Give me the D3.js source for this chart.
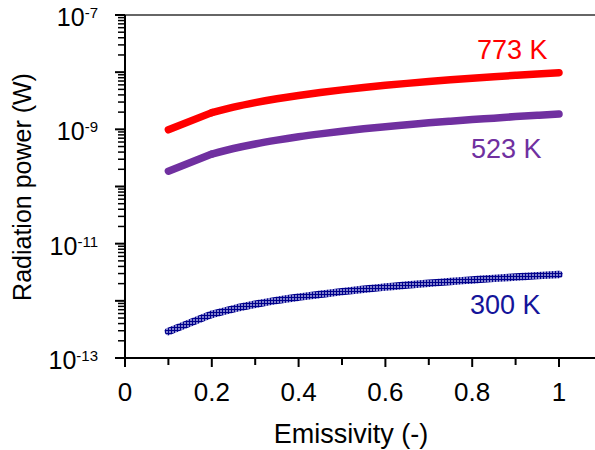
<!DOCTYPE html>
<html>
<head>
<meta charset="utf-8">
<script src="https://cdn.jsdelivr.net/npm/d3@7"></script>
<style>
  body { margin: 0; background: #fff; }
  svg { display: block; font-family: "Liberation Sans", Arial, sans-serif; }
</style>
</head>
<body>
<svg id="chart" width="595" height="450"></svg>
<script>
// emissivity values (x)
var emissivity = [0.1, 0.2, 0.25, 0.3, 0.35, 0.4, 0.45, 0.5, 0.55, 0.6, 0.65, 0.7, 0.75, 0.8, 0.85, 0.9, 0.95, 1.0];
// radiation power (W)
var power773 = [9.8e-10, 1.96e-9, 2.45e-9, 2.94e-9, 3.43e-9, 3.92e-9, 4.41e-9, 4.9e-9, 5.39e-9, 5.88e-9,
                6.37e-9, 6.86e-9, 7.35e-9, 7.84e-9, 8.33e-9, 8.82e-9, 9.31e-9, 9.8e-9];
var power523 = [1.85e-10, 3.7e-10, 4.62e-10, 5.55e-10, 6.47e-10, 7.4e-10, 8.32e-10, 9.25e-10, 1.02e-9, 1.11e-9,
                1.2e-9, 1.3e-9, 1.39e-9, 1.48e-9, 1.57e-9, 1.67e-9, 1.76e-9, 1.85e-9];
var power300 = [2.9e-13, 5.8e-13, 7.25e-13, 8.7e-13, 1.02e-12, 1.16e-12, 1.3e-12, 1.45e-12, 1.6e-12, 1.74e-12,
                1.89e-12, 2.03e-12, 2.18e-12, 2.32e-12, 2.47e-12, 2.61e-12, 2.76e-12, 2.9e-12];
var seriesLabels = ["773 K", "523 K", "300 K"];
var xTicks = [0, 0.2, 0.4, 0.6, 0.8, 1];
var xMinor = [0.1, 0.3, 0.5, 0.7, 0.9];
var yLabelExp = [-7, -9, -11, -13];

var svg = d3.select("#chart");

var x = d3.scaleLinear().domain([0, 1.1]).range([125, 125 + 434 * 1.1]);
var y = d3.scaleLog().domain([1e-13, 1e-7]).range([358, 15]);

// hatch pattern for the 300 K line
var defs = svg.append("defs");
var pat = defs.append("pattern")
    .attr("id", "hatch")
    .attr("patternUnits", "userSpaceOnUse")
    .attr("width", 3).attr("height", 3);
pat.append("rect").attr("width", 3).attr("height", 3).attr("fill", "#8080cc");
pat.append("rect").attr("width", 3).attr("height", 1).attr("fill", "#00008c");
pat.append("rect").attr("width", 1).attr("height", 3).attr("fill", "#00008c");

// top frame line
svg.append("line")
    .attr("x1", x(0)).attr("x2", 595)
    .attr("y1", y(1e-7)).attr("y2", y(1e-7))
    .attr("stroke", "#333").attr("stroke-width", 1.5);

// x axis
var gX = svg.append("g").attr("transform", "translate(0," + y(1e-13) + ")");
gX.append("line").attr("x1", x(0)).attr("x2", 595).attr("stroke", "#000").attr("stroke-width", 2);
gX.selectAll(".maj").data(xTicks).enter().append("line")
    .attr("x1", function (d) { return x(d); }).attr("x2", function (d) { return x(d); })
    .attr("y1", 0).attr("y2", 9).attr("stroke", "#000").attr("stroke-width", 2);
gX.selectAll(".min").data(xMinor).enter().append("line")
    .attr("x1", function (d) { return x(d); }).attr("x2", function (d) { return x(d); })
    .attr("y1", 0).attr("y2", 7).attr("stroke", "#000").attr("stroke-width", 2);
gX.selectAll("text").data(xTicks).enter().append("text")
    .attr("x", function (d) { return x(d); })
    .attr("y", 43)
    .attr("text-anchor", "middle")
    .attr("font-size", 26)
    .text(function (d) { return d3.format("")(d); });

// y axis
var gY = svg.append("g").attr("transform", "translate(" + x(0) + ",0)");
gY.append("line").attr("y1", y(1e-7)).attr("y2", y(1e-13)).attr("stroke", "#000").attr("stroke-width", 2);
var yMajor = [], yMin = [];
for (var e = -13; e <= -7; e++) {
    yMajor.push(Math.pow(10, e));
    if (e < -7) for (var k = 2; k <= 9; k++) yMin.push(k * Math.pow(10, e));
}
gY.selectAll(".maj").data(yMajor).enter().append("line")
    .attr("y1", function (d) { return y(d); }).attr("y2", function (d) { return y(d); })
    .attr("x1", -10).attr("x2", 0).attr("stroke", "#000").attr("stroke-width", 2);
gY.selectAll(".min").data(yMin).enter().append("line")
    .attr("y1", function (d) { return y(d); }).attr("y2", function (d) { return y(d); })
    .attr("x1", -7).attr("x2", 0).attr("stroke", "#000").attr("stroke-width", 1.5);
var yl = gY.selectAll("text").data(yLabelExp).enter().append("text")
    .attr("x", -27)
    .attr("y", function (d) { return y(Math.pow(10, d)) + 11; })
    .attr("text-anchor", "end")
    .attr("font-size", 25);
yl.append("tspan").text("10");
yl.append("tspan").attr("dy", -8).attr("font-size", 15).text(function (d) { return "-" + Math.abs(d); });

// axis titles
svg.append("text")
    .attr("x", 351).attr("y", 443)
    .attr("text-anchor", "middle")
    .attr("font-size", 27)
    .text("Emissivity (-)");
svg.append("text")
    .attr("transform", "translate(31,187) rotate(-90)")
    .attr("text-anchor", "middle")
    .attr("font-size", 25)
    .text("Radiation power (W)");

// lines
var line = d3.line()
    .x(function (d) { return x(d[0]); })
    .y(function (d) { return y(d[1]); })
    .curve(d3.curveMonotoneX);

function pairs(vals) { return emissivity.map(function (e, i) { return [e, vals[i]]; }); }

var series = [
    { vals: power773, stroke: "#ff0000", text: "#ff0000", lx: 477, ly: 59 },
    { vals: power523, stroke: "#7030a0", text: "#7030a0", lx: 471, ly: 158 },
    { vals: power300, stroke: "url(#hatch)", text: "#14149a", lx: 470, ly: 314 }
];

series.forEach(function (s, i) {
    var pts = pairs(s.vals);
    // first segment is straight in the reference, the rest is smooth
    svg.append("path")
        .attr("d", d3.line().x(function (d) { return x(d[0]); }).y(function (d) { return y(d[1]); })(pts.slice(0, 2)))
        .attr("fill", "none")
        .attr("stroke", s.stroke)
        .attr("stroke-width", 7.5)
        .attr("stroke-linecap", "round");
    svg.append("path")
        .attr("d", line(pts.slice(1)))
        .attr("fill", "none")
        .attr("stroke", s.stroke)
        .attr("stroke-width", 7.5)
        .attr("stroke-linecap", "round")
        .attr("stroke-linejoin", "round");
    svg.append("text")
        .attr("x", s.lx).attr("y", s.ly)
        .attr("font-size", 27)
        .attr("fill", s.text)
        .text(seriesLabels[i]);
});
</script>
</body>
</html>
